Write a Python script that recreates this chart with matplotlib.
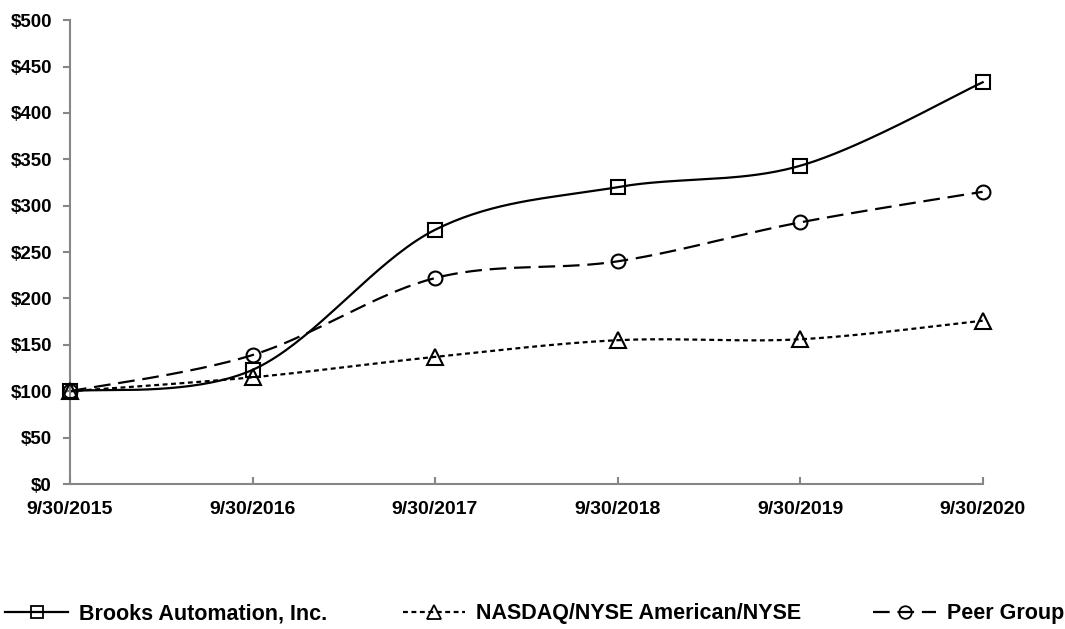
import numpy as np
import matplotlib
matplotlib.use("Agg")
import matplotlib.pyplot as plt
from matplotlib.lines import Line2D

# ── data ──────────────────────────────────────────────────────────────────────

dates = ["9/30/2015", "9/30/2016", "9/30/2017", "9/30/2018", "9/30/2019", "9/30/2020"]
brooks = [100, 123, 274, 320, 343, 433]
nasdaq = [100, 115, 137, 155, 156, 176]
peer = [100, 139, 222, 240, 282, 315]

y_ticks = [0, 50, 100, 150, 200, 250, 300, 350, 400, 450, 500]

# ── helpers ───────────────────────────────────────────────────────────────────

def smooth(xs, ys, n=40):
    # excel-style smoothed line: catmull-rom as cubic bezier segments
    pts = np.column_stack([xs, ys]).astype(float)
    out = []
    for i in range(len(pts) - 1):
        p0 = pts[i - 1] if i > 0 else pts[i]
        p1, p2 = pts[i], pts[i + 1]
        p3 = pts[i + 2] if i + 2 < len(pts) else pts[i + 1]
        c1 = p1 + (p2 - p0) / 6
        c2 = p2 - (p3 - p1) / 6
        t = np.linspace(0, 1, n)[:, None]
        seg = ((1 - t) ** 3 * p1 + 3 * (1 - t) ** 2 * t * c1
               + 3 * (1 - t) * t ** 2 * c2 + t ** 3 * p2)
        out.append(seg if i == 0 else seg[1:])
    out = np.vstack(out)
    return out[:, 0], out[:, 1]

plt.rcParams["font.family"] = ["Liberation Sans", "DejaVu Sans"]
plt.rcParams["font.weight"] = "bold"

GRAY = "#868686"
SERIES = [
    ("Brooks Automation, Inc.", brooks, "s", "-", None, 10),
    ("NASDAQ/NYSE American/NYSE", nasdaq, "^", "--", (2.2, 1.6), 11),
    ("Peer Group", peer, "o", "--", (7.5, 3.5), 10),
]

# ── plot ──────────────────────────────────────────────────────────────────────

fig = plt.figure(figsize=(10.65, 6.29), dpi=100)
ax = fig.add_axes([0.0657, 0.2305, 0.857, 0.7375])

x = np.arange(len(dates))
handles = []
for label, vals, mk, ls, dash, ms in SERIES:
    sx, sy = smooth(x, vals)
    line, = ax.plot(sx, sy, color="black", lw=1.6, ls=ls, clip_on=False)
    if dash:
        line.set_dashes(dash)
    ax.plot(x, vals, ls="none", marker=mk, ms=ms, mfc="none", mec="black",
            mew=1.5, clip_on=False, zorder=3)
    h = Line2D([], [], color="black", lw=1.6, ls=ls, marker=mk, ms=ms - 1,
               mfc="none", mec="black", mew=1.3)
    if dash:
        h.set_dashes(dash)
    handles.append((h, label))

ax.set_xlim(0, 5)
ax.set_ylim(0, 500)
ax.set_xticks(x)
ax.set_xticklabels(dates, fontsize=14, fontweight="bold")
ax.set_yticks(y_ticks)
ax.set_yticklabels([f"${v}" for v in y_ticks], fontsize=13.5, fontweight="bold")

for s in ["top", "right"]:
    ax.spines[s].set_visible(False)
for s in ["left", "bottom"]:
    ax.spines[s].set_color(GRAY)
    ax.spines[s].set_linewidth(1.5)
ax.tick_params(axis="y", direction="out", length=5, width=1.5, color=GRAY, pad=8)
ax.tick_params(axis="x", direction="in", length=5, width=1.5, color=GRAY, pad=12)

# legend: three separate entries placed along the bottom
leg_pos = [(0.005, "center left"), (0.378, "center left"), (0.999, "center right")]
for (h, label), (lx, loc) in zip(handles, leg_pos):
    fig.legend(handles=[h], labels=[label], loc=loc,
               bbox_to_anchor=(lx, 0.024), frameon=False,
               handlelength=2.9, handletextpad=0.5, borderpad=0,
               borderaxespad=0, prop={"weight": "bold", "size": 15.5})

fig.savefig("out.png", dpi=100)
